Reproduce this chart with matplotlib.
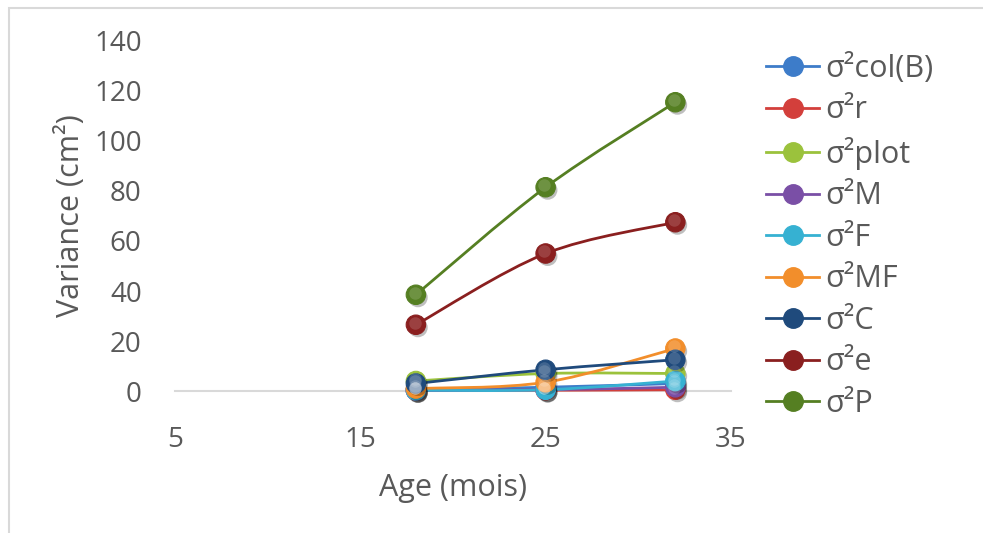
import matplotlib.pyplot as plt
import matplotlib.patheffects as pe
from matplotlib.path import Path
from matplotlib.patches import PathPatch, Rectangle
from matplotlib.lines import Line2D
from matplotlib.transforms import offset_copy
import numpy as np

plt.rcParams['font.family'] = ['Open Sans', 'DejaVu Sans']

# age (months) and variance components (cm^2)
ages = [18, 25, 32]
labels = ["σ²col(B)", "σ²r", "σ²plot", "σ²M", "σ²F", "σ²MF", "σ²C", "σ²e", "σ²P"]
var_colB = [0.5, 1.5, 3.0]
var_r = [0.3, 0.3, 0.5]
var_plot = [4.0, 7.0, 7.0]
var_M = [0.2, 0.5, 1.5]
var_F = [0.3, 0.5, 4.0]
var_MF = [1.0, 3.5, 17.0]
var_C = [3.0, 8.5, 12.5]
var_e = [26.5, 55.0, 67.5]
var_P = [38.5, 81.5, 115.5]
series = [var_colB, var_r, var_plot, var_M, var_F, var_MF, var_C, var_e, var_P]
colors = ["#3d7cc9", "#d33f3b", "#9bc23c", "#7a4fa6", "#36b1d2",
          "#f28e2b", "#1f4a7c", "#8a1f1f", "#557f22"]

grey = "#595959"


def smooth_path(xs, ys):
    # excel-like smoothed line: bezier segments with catmull-rom tangents
    pts = np.column_stack([xs, ys]).astype(float)
    n = len(pts)
    verts = [pts[0]]
    codes = [Path.MOVETO]
    for i in range(n - 1):
        p_prev = pts[i - 1] if i > 0 else pts[i]
        p_next = pts[i + 2] if i + 2 < n else pts[i + 1]
        c1 = pts[i] + (pts[i + 1] - p_prev) / 6.0
        c2 = pts[i + 1] - (p_next - pts[i]) / 6.0
        verts += [c1, c2, pts[i + 1]]
        codes += [Path.CURVE4] * 3
    return Path(verts, codes)


fig = plt.figure(figsize=(9.83, 5.33), dpi=100)
ax = fig.add_axes([0.178, 0.2664, 0.5656, 0.6567])

# light frame round the chart
fig.patches.append(Rectangle((9 / 983, -0.1), 1.2, 0.1 + (533 - 8) / 533,
                             transform=fig.transFigure, fill=False,
                             edgecolor="#d9d9d9", linewidth=1.5))

shadow = [pe.SimplePatchShadow(offset=(1.5, -2), shadow_rgbFace="#000000", alpha=0.25),
          pe.Normal()]

for vals, col in zip(series, colors):
    patch = PathPatch(smooth_path(ages, vals), facecolor="none", edgecolor=col,
                      linewidth=2.0, zorder=3, clip_on=False)
    ax.add_patch(patch)

hl = offset_copy(ax.transData, fig=fig, x=-1.0, y=1.5, units="points")
for vals, col in zip(series, colors):
    ax.plot(ages, vals, linestyle="none", marker="o", markersize=14,
            markerfacecolor=col, markeredgecolor=col, markeredgewidth=0.8,
            zorder=4, clip_on=False, path_effects=shadow)
    # soft highlight to give the markers a rounded look
    ax.plot(ages, vals, linestyle="none", marker="o", markersize=9,
            markerfacecolor="white", markeredgecolor="none", alpha=0.15,
            transform=hl, zorder=5, clip_on=False)

ax.set_xlim(5, 35)
ax.set_ylim(0, 140)
ax.set_xticks([5, 15, 25, 35])
ax.set_yticks(np.arange(0, 141, 20))
for s in ["top", "right", "left"]:
    ax.spines[s].set_visible(False)
ax.spines["bottom"].set_color("#d9d9d9")
ax.spines["bottom"].set_linewidth(1.5)
ax.tick_params(axis="both", length=0, labelsize=20, labelcolor=grey)
ax.tick_params(axis="x", pad=25)
ax.tick_params(axis="y", pad=24)

ax.set_xlabel("Age (mois)", fontsize=22, color=grey, labelpad=14)
ax.set_ylabel("Variance (cm²)", fontsize=22, color=grey, labelpad=6)

handles = [Line2D([0], [0], color=c, linewidth=2, marker="o", markersize=14,
                  markerfacecolor=c, markeredgecolor=c) for c in colors]
leg = fig.legend(handles, labels, loc="upper left", bbox_to_anchor=(766 / 983, 1 - 53 / 533),
                 frameon=False, fontsize=22, handlelength=1.75, handletextpad=0.2,
                 labelspacing=0.375, borderpad=0, borderaxespad=0)
for t in leg.get_texts():
    t.set_color(grey)

fig.savefig("out.png", dpi=100)
